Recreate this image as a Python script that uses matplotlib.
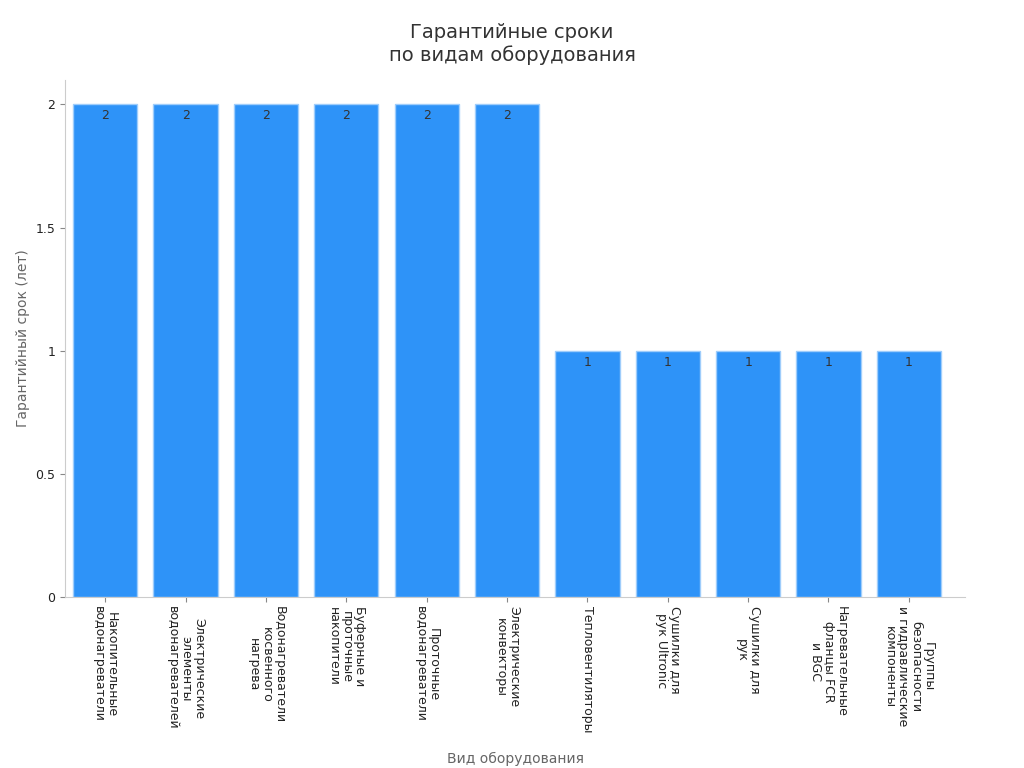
import matplotlib
matplotlib.use("Agg")
import matplotlib.pyplot as plt

categories = ["Накопительные\nводонагреватели", "Электрические\nэлементы\nводонагревателей",
              "Водонагреватели\nкосвенного\nнагрева", "Буферные и\nпроточные\nнакопители",
              "Проточные\nводонагреватели", "Электрические\nконвекторы", "Тепловентиляторы",
              "Сушилки для\nрук Ultronic", "Сушилки для\nрук", "Нагревательные\nфланцы FCR\nи BGC",
              "Группы\nбезопасности\nи гидравлические\nкомпоненты"]
values = [2, 2, 2, 2, 2, 2, 1, 1, 1, 1, 1]
yticks = [0, 0.5, 1, 1.5, 2]
ytick_labels = ["0", "0.5", "1", "1.5", "2"]

fig = plt.figure(figsize=(10.24, 7.68), dpi=100)
ax = fig.add_axes([0.0635, 0.223, 0.879, 0.673])
x = range(len(categories))
bars = ax.bar(x, values, width=0.8, color="#2e93f8", edgecolor="#9fcdfb", linewidth=1)
for xi, v in zip(x, values):
    ax.text(xi, v - 0.02, f"{v}", ha="center", va="top", fontsize=9, color="#333333")
ax.set_xlim(-0.5, len(categories) - 0.3)
ax.set_ylim(0, 2.1)
ax.set_yticks(yticks)
ax.set_yticklabels(ytick_labels, fontsize=9, color="#222222")
ax.set_xticks(list(x))
ax.set_xticklabels(categories, rotation=-90, fontsize=9, color="#222222", ha="center", va="top",
                   rotation_mode="default", linespacing=1.0)
for s in ["top", "right"]:
    ax.spines[s].set_visible(False)
for s in ["left", "bottom"]:
    ax.spines[s].set_color("#cccccc")
ax.tick_params(colors="#888888", labelcolor="#222222")
ax.set_ylabel("Гарантийный срок (лет)", fontsize=10, color="#666666")
ax.set_xlabel("Вид оборудования", fontsize=10, color="#666666", labelpad=14)
fig.suptitle("Гарантийные сроки\nпо видам оборудования", fontsize=14, color="#333333", y=0.97)
fig.savefig("out.png", dpi=100)
